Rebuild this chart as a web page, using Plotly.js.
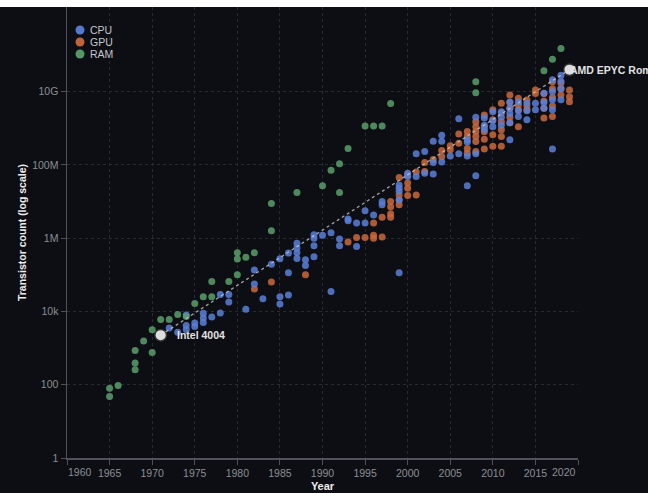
<!DOCTYPE html>
<html>
<head>
<meta charset="utf-8">
<script src="https://cdn.plot.ly/plotly-3.0.1.min.js"></script>
<style>
  html, body { margin: 0; padding: 0; background: #ffffff; }
  #chart { position: absolute; left: 0; top: 7px; width: 648px; height: 486px; }
</style>
</head>
<body>
<div id="chart"></div>
<script>
// ---------- DATA ----------
const seriesNames = ["CPU", "GPU", "RAM"];

const cpuYears = [
  1971, 1972, 1973, 1974, 1974, 1974, 1975, 1975, 1976, 1976, 1976, 1977,
  1978, 1978, 1979, 1979, 1981, 1982, 1982, 1983, 1984, 1985, 1985, 1985,
  1986, 1986, 1986, 1987, 1987, 1987, 1987, 1988, 1988, 1989, 1989, 1989, 1989,
  1990, 1991, 1991, 1992, 1992, 1993, 1993, 1994, 1994, 1995, 1995, 1996,
  1997, 1997, 1999, 1999, 1999, 1999, 1999, 2000, 2000, 2001, 2001, 2002, 2002,
  2003, 2003, 2003, 2004, 2004, 2004, 2005, 2006, 2006, 2007, 2007, 2007, 2007,
  2008, 2008, 2008, 2009, 2009, 2009, 2010, 2010, 2010, 2011, 2011, 2011,
  2012, 2012, 2012, 2012, 2012, 2013, 2013, 2013, 2014, 2014, 2014, 2015, 2015,
  2016, 2016, 2016, 2017, 2017, 2017, 2017, 2017, 2018, 2018, 2018, 2018, 2019
];
const cpuCounts = [
  2250, 3500, 2700, 8000, 4100, 3200, 4800, 3900, 8900, 6600, 5000, 7000,
  29000, 9000, 29000, 18000, 11500, 135000, 56000, 22000, 195000, 275000, 25000, 16000,
  390000, 113000, 28000, 730000, 540000, 400000, 280000, 255000, 180000, 1230000, 1000000, 620000, 310000,
  1200000, 1400000, 35000, 940000, 620000, 3300000, 3000000, 2600000, 590000, 5600000, 2600000, 4300000,
  10000000, 8100000, 28000000, 23000000, 19000000, 11000000, 113000, 48000000, 59000000, 200000000, 48000000, 230000000, 59000000,
  440000000, 115000000, 56000000, 640000000, 440000000, 120000000, 175000000, 1800000000, 200000000, 480000000, 420000000, 175000000, 27000000,
  2000000000, 200000000, 50000000, 1900000000, 1200000000, 900000000, 2800000000, 1600000000, 1100000000, 2800000000, 2000000000, 1200000000,
  5200000000, 3500000000, 2500000000, 1400000000, 480000000, 5200000000, 3000000000, 2100000000, 4800000000, 3000000000, 1700000000, 4800000000, 3200000000,
  9000000000, 5000000000, 3500000000, 21000000000, 10000000000, 6000000000, 3200000000, 270000000, 28000000000, 19000000000, 12000000000, 6000000000, 39540000000
];

const gpuYears = [
  1982, 1984, 1988, 1993, 1994, 1995, 1996, 1996, 1996, 1997, 1997,
  1998, 1998, 1998, 1998, 1999, 1999, 1999, 1999, 2000, 2000, 2000, 2000,
  2001, 2001, 2002, 2002, 2003, 2004, 2004, 2005, 2005, 2006, 2006,
  2007, 2007, 2007, 2007, 2008, 2008, 2008, 2008, 2008, 2008,
  2009, 2009, 2009, 2009, 2009, 2010, 2010, 2010, 2010,
  2011, 2011, 2011, 2011, 2011, 2011, 2012, 2012, 2012, 2012, 2012,
  2013, 2013, 2013, 2013, 2014, 2014, 2014, 2015, 2015,
  2016, 2016, 2016, 2016, 2017, 2017, 2017, 2017, 2017, 2018, 2018, 2018, 2019, 2019, 2019
];
const gpuCounts = [
  41000, 63000, 100000, 780000, 1040000, 1040000, 1200000, 1000000, 2600000, 1070000, 3700000,
  10000000, 7200000, 4600000, 3700000, 45000000, 15000000, 11000000, 8100000, 53000000, 32000000, 23000000, 14500000,
  64000000, 15000000, 115000000, 66000000, 140000000, 245000000, 166000000, 330000000, 260000000, 690000000, 390000000,
  810000000, 590000000, 280000000, 210000000, 1500000000, 1100000000, 810000000, 590000000, 430000000, 230000000,
  2300000000, 1100000000, 800000000, 500000000, 270000000, 3200000000, 1700000000, 660000000, 320000000,
  4800000000, 2600000000, 1500000000, 900000000, 590000000, 320000000, 8100000000, 5000000000, 3500000000, 2000000000, 1400000000,
  6600000000, 4300000000, 3200000000, 1100000000, 5900000000, 4000000000, 3200000000, 11000000000, 8900000000,
  8900000000, 5500000000, 3500000000, 1900000000, 18600000000, 12000000000, 7000000000, 4000000000, 2100000000, 17000000000, 12000000000, 8100000000, 11000000000, 7200000000, 5300000000
];

const ramYears = [
  1965, 1965, 1966, 1968, 1968, 1968, 1969, 1970, 1970, 1971, 1972, 1973, 1974,
  1975, 1976, 1977, 1977, 1979, 1980, 1980, 1980, 1981, 1982, 1984, 1984,
  1987, 1990, 1991, 1992, 1992, 1993, 1995, 1996, 1997, 1998, 2008, 2008, 2016, 2017, 2018
];
const ramCounts = [
  80, 48, 95, 860, 390, 256, 1550, 760, 3150, 6000, 6000, 8300, 7300,
  16500, 25000, 25000, 66000, 66000, 100000, 270000, 400000, 300000, 400000, 1600000, 8800000,
  17500000, 27000000, 71000000, 107000000, 17500000, 280000000, 1150000000, 1150000000, 1150000000, 4700000000, 18600000000, 9300000000, 37000000000, 76000000000, 150000000000
];

// Highlighted chips and the trend line joining them
const highlightNames = ["Intel 4004", "AMD EPYC Rome"];
const highlightYears = [1971, 2019];
const highlightCounts = [2250, 39540000000];

// Axis ticks
const xTickVals = [1960, 1965, 1970, 1975, 1980, 1985, 1990, 1995, 2000, 2005, 2010, 2015, 2020];
const yTickVals = [1, 100, 1e4, 1e6, 1e8, 1e10];
const yTickText = ["1", "100", "10k", "1M", "100M", "10G"];

// ---------- STYLE ----------
const colors = { CPU: "#5b7fd8", GPU: "#c9693b", RAM: "#5a9f6c" };
const BG = "#0d0e13";
const TICK_COLOR = "#8b8e96";
const LINE_COLOR = "#4f525a";
const GRID_COLOR = "#272a31";
const FONT = "Liberation Sans, Arial, sans-serif";

const W = 648, H = 486;
const M = { l: 67, r: 70, t: 0, b: 35 };
const plotW = W - M.l - M.r, plotH = H - M.t - M.b;
const pxToPaperX = px => (px - M.l) / plotW;
const pxToPaperY = py => 1 - (py - M.t) / plotH;

const pointTrace = (name, xs, ys) => ({
  type: "scatter", mode: "markers", name: name,
  x: xs, y: ys,
  marker: { size: 7, color: colors[name], opacity: 0.85, line: { width: 0 } },
  hoverinfo: "x+y+name"
});

const traces = [
  pointTrace("GPU", gpuYears, gpuCounts),
  pointTrace("CPU", cpuYears, cpuCounts),
  pointTrace("RAM", ramYears, ramCounts),
  {
    type: "scatter", mode: "lines", name: "trend",
    x: highlightYears, y: highlightCounts,
    line: { color: "rgba(200,200,200,0.8)", width: 1.3, dash: "3px,3px" },
    hoverinfo: "skip"
  },
  {
    type: "scatter", mode: "markers", name: "glow",
    x: highlightYears, y: highlightCounts,
    marker: { size: 13, color: "rgba(255,255,255,0.16)", line: { width: 0 } },
    hoverinfo: "skip"
  },
  {
    type: "scatter", mode: "markers", name: "highlight",
    x: highlightYears, y: highlightCounts, text: highlightNames,
    marker: { size: 10, color: "#dedede", line: { width: 0 } },
    hoverinfo: "text"
  }
];

// Legend (compact, drawn in the plot's top-left corner)
const legendShapes = [];
const legendAnnots = [];
seriesNames.forEach((name, i) => {
  const cy = 23 + i * 12;
  legendShapes.push({
    type: "circle", xref: "paper", yref: "paper",
    xsizemode: "pixel", ysizemode: "pixel",
    xanchor: pxToPaperX(80), yanchor: pxToPaperY(cy),
    x0: -4.5, x1: 4.5, y0: -4.5, y1: 4.5,
    fillcolor: colors[name], line: { width: 0 }, opacity: 0.95
  });
  legendAnnots.push({
    xref: "paper", yref: "paper", x: pxToPaperX(88), y: pxToPaperY(cy),
    xanchor: "left", yanchor: "middle", showarrow: false,
    text: name, font: { family: FONT, size: 10.5, color: "#c4c6cc" }
  });
});

// Highlight labels
const labelShift = [14, -1];
const highlightAnnots = highlightNames.map((n, i) => ({
  x: highlightYears[i], y: Math.log10(highlightCounts[i]),
  xref: "x", yref: "y", xanchor: "left", yanchor: "middle",
  xshift: labelShift[i], showarrow: false, text: n,
  font: { family: FONT, size: 10.5, color: "#e2e2e2", weight: 700 }
}));

// End tick labels, kept inside the axis extent
const endTickAnnots = [xTickVals[0], xTickVals[xTickVals.length - 1]].map((v, i) => ({
  x: v, xref: "x", y: 0, yref: "paper",
  xanchor: i === 0 ? "left" : "right", yanchor: "top",
  yshift: -6, xshift: i === 0 ? -1 : 0, showarrow: false, text: String(v),
  font: { family: FONT, size: 10.5, color: TICK_COLOR }
}));

const layout = {
  width: W, height: H,
  margin: M,
  paper_bgcolor: BG, plot_bgcolor: BG,
  font: { family: FONT, size: 10.5, color: TICK_COLOR },
  showlegend: false,
  hovermode: "closest",
  xaxis: {
    range: [1960, 2020],
    tickmode: "array",
    tickvals: xTickVals,
    ticktext: xTickVals.map((v, i) => (i === 0 || i === xTickVals.length - 1) ? "" : String(v)),
    showline: true, linecolor: LINE_COLOR, linewidth: 1.5,
    ticks: "outside", ticklen: 5, tickcolor: LINE_COLOR, tickwidth: 1,
    showgrid: true, gridcolor: GRID_COLOR, griddash: "dot", gridwidth: 1,
    zeroline: false,
    tickfont: { family: FONT, size: 10.5, color: TICK_COLOR },
    title: { text: "Year", standoff: 4, font: { family: FONT, size: 11, color: "#ececec", weight: 700 } }
  },
  yaxis: {
    type: "log",
    range: [0, 12.307],
    tickmode: "array",
    tickvals: yTickVals,
    ticktext: yTickText,
    showline: true, linecolor: LINE_COLOR, linewidth: 1.5,
    ticks: "outside", ticklen: 5, tickcolor: LINE_COLOR, tickwidth: 1,
    showgrid: true, gridcolor: GRID_COLOR, griddash: "dot", gridwidth: 1,
    zeroline: false,
    tickfont: { family: FONT, size: 10.5, color: TICK_COLOR },
    title: { text: "Transistor count (log scale)", standoff: 3, font: { family: FONT, size: 10.5, color: "#ececec", weight: 700 } }
  },
  shapes: legendShapes,
  annotations: legendAnnots.concat(highlightAnnots, endTickAnnots)
};

Plotly.newPlot("chart", traces, layout, { displayModeBar: false, staticPlot: true });
</script>
</body>
</html>
